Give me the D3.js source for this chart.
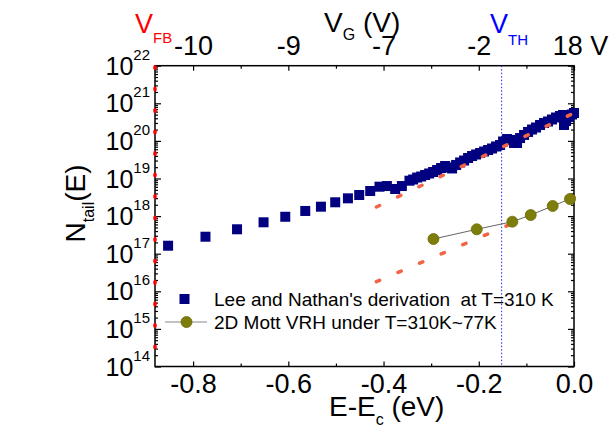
<!DOCTYPE html>
<html>
<head>
<meta charset="utf-8">
<script src="https://cdnjs.cloudflare.com/ajax/libs/d3/7.8.5/d3.min.js"></script>
<style>
  body { margin: 0; background: #fff; }
  svg { font-family: "Liberation Sans", Arial, sans-serif; }
</style>
</head>
<body>
<svg id="chart" width="611" height="432"></svg>
<script>
// Lee and Nathan's derivation at T=310 K
var leeE = [-0.8525, -0.774, -0.7077, -0.652, -0.6064, -0.5644, -0.5315, -0.5015, -0.4748, -0.4511,
  -0.428, -0.4085, -0.393, -0.3756, -0.3615, -0.3456, -0.3378, -0.3294, -0.3210, -0.3126,
  -0.3042, -0.2958, -0.2875, -0.2791, -0.2707, -0.2623, -0.2560, -0.2476, -0.2392, -0.2308,
  -0.2224, -0.2140, -0.2056, -0.1972, -0.1888, -0.1804, -0.1721, -0.1637, -0.1553, -0.1490,
  -0.1406, -0.1343, -0.1259, -0.1196, -0.1133, -0.1049, -0.0965, -0.0881, -0.0797, -0.0713,
  -0.0629, -0.0546, -0.0462, -0.0378, -0.0294, -0.0231, -0.0210, -0.0168, -0.0105, -0.0042, 0];
var leeN = [1.63e17, 2.83e17, 4.46e17, 6.84e17, 9.6e17, 1.37e18, 1.78e18, 2.33e18, 2.97e18, 3.64e18,
  4.65e18, 6.05e18, 6.3e18, 5.26e18, 6.3e18, 8.74e18, 9.4e18, 1.06e19, 1.13e19, 1.24e19,
  1.36e19, 1.49e19, 1.68e19, 1.90e19, 2.15e19, 1.96e19, 1.85e19, 2.29e19, 2.67e19, 3.01e19,
  3.51e19, 3.96e19, 4.35e19, 4.76e19, 5.22e19, 5.73e19, 6.28e19, 7.1e19, 7.78e19, 9.64e19,
  1.12e20, 1.06e20, 8.8e19, 8.8e19, 1.19e20, 1.44e20, 1.73e20, 2.01e20, 2.27e20, 2.65e20,
  2.99e20, 3.28e20, 3.71e20, 4.19e20, 4.59e20, 4.89e20, 2.65e20, 3.38e20, 4.32e20, 5.04e20, 5.52e20];

// 2D Mott VRH under T=310K~77K
var mottE = [-0.2952, -0.2042, -0.1295, -0.0909, -0.0447, -0.0084];
var mottN = [2.46e17, 4.46e17, 7.1e17, 1.07e18, 1.86e18, 2.85e18];

// fitted tails
var fitHighE = [-0.415, 0];
var fitHighN = [1.75e18, 5.5e20];
var fitLowE = [-0.415, 0];
var fitLowN = [1.8e16, 3.2e18];

// marker voltages
var vfbE = -0.88;
var vthE = -0.152;

var eTicks = [-0.8, -0.6, -0.4, -0.2, 0];
var eMinor = [-0.7, -0.5, -0.3, -0.1];
var vgLabels = ["-10", "-9", "-7", "-2", "18 V"];
var nExps = [14, 15, 16, 17, 18, 19, 20, 21, 22];

drawChart();

function drawChart() {
  var svg = d3.select("#chart");
  var plotL = 155, plotR = 574, plotT = 65.7, plotB = 366.5;

  var x = d3.scaleLinear().domain([-0.88, 0]).range([plotL, plotR]);
  var y = d3.scaleLog().domain([1e14, 1e22]).range([plotB, plotT]);

  var majorN = nExps.map(function(p) { return Math.pow(10, p); });
  var minorN = [];
  nExps.slice(0, -1).forEach(function(p) {
    for (var k = 2; k <= 9; k++) minorN.push(k * Math.pow(10, p));
  });

  // ---- axes ----
  function styleAxis(g) {
    g.select(".domain").remove();
    g.selectAll("line").attr("stroke", "#000").attr("stroke-width", 1.2);
  }

  svg.append("g")
    .attr("transform", "translate(0," + plotB + ")")
    .call(d3.axisBottom(x).tickValues(eTicks).tickSizeInner(-5).tickSizeOuter(0).tickPadding(7)
      .tickFormat(function(d) { return d.toFixed(1); }))
    .call(styleAxis)
    .selectAll("text").attr("font-size", 27).attr("fill", "#000")
      .attr("font-family", "Liberation Sans, Arial, sans-serif");

  svg.append("g")
    .attr("transform", "translate(0," + plotB + ")")
    .call(d3.axisBottom(x).tickValues(eMinor).tickSizeInner(-3).tickSizeOuter(0).tickFormat(""))
    .call(styleAxis);

  svg.append("g")
    .attr("transform", "translate(0," + plotT + ")")
    .call(d3.axisTop(x).tickValues(eTicks).tickSizeInner(-5).tickSizeOuter(0).tickPadding(11)
      .tickFormat(function(d, i) { return vgLabels[i]; }))
    .call(styleAxis)
    .selectAll("text").attr("font-size", 27).attr("fill", "#000")
      .attr("font-family", "Liberation Sans, Arial, sans-serif")
      .attr("dx", function(d, i) { return i === 4 ? 6 : 0; });

  svg.append("g")
    .attr("transform", "translate(0," + plotT + ")")
    .call(d3.axisTop(x).tickValues(eMinor).tickSizeInner(-3).tickSizeOuter(0).tickFormat(""))
    .call(styleAxis);

  svg.append("g")
    .attr("transform", "translate(" + plotL + ",0)")
    .call(d3.axisLeft(y).tickValues(majorN).tickSizeInner(-6).tickSizeOuter(0).tickFormat(""))
    .call(styleAxis);

  svg.append("g")
    .attr("transform", "translate(" + plotL + ",0)")
    .call(d3.axisLeft(y).tickValues(minorN).tickSizeInner(-3).tickSizeOuter(0).tickFormat(""))
    .call(styleAxis);

  svg.append("g")
    .attr("transform", "translate(" + plotR + ",0)")
    .call(d3.axisRight(y).tickValues(majorN).tickSizeInner(-6).tickSizeOuter(0).tickFormat(""))
    .call(styleAxis);

  svg.append("g")
    .attr("transform", "translate(" + plotR + ",0)")
    .call(d3.axisRight(y).tickValues(minorN).tickSizeInner(-3).tickSizeOuter(0).tickFormat(""))
    .call(styleAxis);

  // y labels as 10^n
  var yLab = svg.append("g").selectAll("text")
    .data(nExps)
    .enter().append("text")
    .attr("x", plotL - 5)
    .attr("y", function(d) { return y(Math.pow(10, d)) + 9; })
    .attr("text-anchor", "end")
    .attr("font-size", 25)
    .attr("fill", "#000");
  yLab.append("tspan").text("10");
  yLab.append("tspan").attr("font-size", 15).attr("dy", -15)
    .text(function(d) { return d; });

  // frame
  svg.append("rect")
    .attr("x", plotL).attr("y", plotT)
    .attr("width", plotR - plotL).attr("height", plotB - plotT)
    .attr("fill", "none").attr("stroke", "#000").attr("stroke-width", 1.5);

  // ---- marker lines ----
  svg.append("line")
    .attr("x1", x(vthE)).attr("x2", x(vthE))
    .attr("y1", plotT).attr("y2", plotB)
    .attr("stroke", "#2020ff").attr("stroke-width", 1)
    .attr("stroke-dasharray", "1.5,2");

  svg.append("line")
    .attr("x1", x(vfbE)).attr("x2", x(vfbE))
    .attr("y1", y(1e22) + 1).attr("y2", plotB)
    .attr("stroke", "#ff0000").attr("stroke-width", 3.5)
    .attr("stroke-linecap", "round")
    .attr("stroke-dasharray", "1.5,20");

  // ---- data ----
  var lineGen = d3.line()
    .x(function(d) { return x(d[0]); })
    .y(function(d) { return y(d[1]); });

  svg.append("g").selectAll("rect")
    .data(d3.zip(leeE, leeN))
    .enter().append("rect")
    .attr("x", function(d) { return x(d[0]) - 5; })
    .attr("y", function(d) { return y(d[1]) - 5; })
    .attr("width", 10).attr("height", 10)
    .attr("fill", "#000080");

  [[fitHighE, fitHighN], [fitLowE, fitLowN]].forEach(function(f) {
    svg.append("path")
      .attr("d", lineGen(d3.zip(f[0], f[1])))
      .attr("fill", "none")
      .attr("stroke", "#f26446")
      .attr("stroke-width", 3.5)
      .attr("stroke-linecap", "round")
      .attr("stroke-dasharray", "3.5,20");
  });

  svg.append("path")
    .attr("d", lineGen(d3.zip(mottE, mottN)))
    .attr("fill", "none")
    .attr("stroke", "#666")
    .attr("stroke-width", 1);

  svg.append("g").selectAll("circle")
    .data(d3.zip(mottE, mottN))
    .enter().append("circle")
    .attr("cx", function(d) { return x(d[0]); })
    .attr("cy", function(d) { return y(d[1]); })
    .attr("r", 5.5)
    .attr("fill", "#7d7d0c")
    .attr("stroke", "#6b6b00").attr("stroke-width", 0.8);

  // ---- legend ----
  var legend = svg.append("g");
  legend.append("rect")
    .attr("x", 179.5).attr("y", 294).attr("width", 10).attr("height", 10)
    .attr("fill", "#000080");
  legend.append("text")
    .attr("x", 214).attr("y", 306)
    .attr("font-size", 19).attr("fill", "#000")
    .attr("xml:space", "preserve")
    .text("Lee and Nathan's derivation  at T=310 K");
  legend.append("line")
    .attr("x1", 165).attr("x2", 207).attr("y1", 322).attr("y2", 322)
    .attr("stroke", "#888").attr("stroke-width", 1.2);
  legend.append("circle")
    .attr("cx", 186.5).attr("cy", 322).attr("r", 5.5)
    .attr("fill", "#7d7d0c").attr("stroke", "#6b6b00").attr("stroke-width", 0.8);
  legend.append("text")
    .attr("x", 214).attr("y", 329)
    .attr("font-size", 19).attr("fill", "#000")
    .text("2D Mott VRH under T=310K~77K");

  // ---- titles ----
  var xt = svg.append("text")
    .attr("x", 329).attr("y", 416)
    .attr("font-size", 28).attr("fill", "#000");
  xt.append("tspan").text("E-E");
  xt.append("tspan").attr("font-size", 16).attr("dy", 9).text("c");
  xt.append("tspan").attr("dy", -9).text(" (eV)");

  var yt = svg.append("text")
    .attr("transform", "translate(85,203.5) rotate(-90)")
    .attr("text-anchor", "middle")
    .attr("font-size", 28).attr("fill", "#000");
  yt.append("tspan").text("N");
  yt.append("tspan").attr("font-size", 16).attr("dy", 9).text("tail");
  yt.append("tspan").attr("dy", -9).text("(E)");

  var vg = svg.append("text")
    .attr("x", 324).attr("y", 32)
    .attr("font-size", 28).attr("fill", "#000");
  vg.append("tspan").text("V");
  vg.append("tspan").attr("font-size", 16).attr("dy", 8).text("G");
  vg.append("tspan").attr("dy", -8).text(" (V)");

  var vfb = svg.append("text")
    .attr("x", 135).attr("y", 33)
    .attr("font-size", 27).attr("fill", "#ff0000");
  vfb.append("tspan").text("V");
  vfb.append("tspan").attr("font-size", 15).attr("dy", 10).text("FB");

  var vth = svg.append("text")
    .attr("x", 490).attr("y", 33)
    .attr("font-size", 27).attr("fill", "#0000ff");
  vth.append("tspan").text("V");
  vth.append("tspan").attr("font-size", 15).attr("dy", 12).text("TH");
}
</script>
</body>
</html>
